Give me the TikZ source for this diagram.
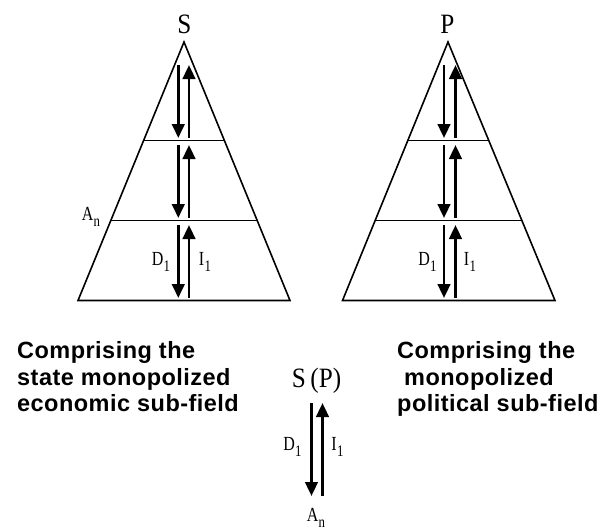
\documentclass[tikz,border=0pt]{standalone}
\usepackage{fontspec}
\setmainfont{Liberation Serif}
\newfontfamily\narrowserif[FakeStretch=0.8]{Liberation Serif}
\newfontfamily\tallserif[FakeStretch=0.9]{Liberation Serif}
\newfontfamily\arialfont[LetterSpace=2]{Liberation Sans}
\newcommand\lsub[1]{\kern0.3pt\lower6pt\hbox{\fontsize{16}{16}\selectfont#1}}
\usetikzlibrary{arrows.meta}
\tikzset{
  edge/.style={line width=1.6pt, line join=miter},
  flow/.style={line width=2.8pt, -{Triangle[length=14pt,width=12.5pt]}},
  big/.style={font=\tallserif\fontsize{28}{30}\selectfont, inner sep=0pt},
  lab/.style={font=\narrowserif\fontsize{20}{22}\selectfont, inner sep=0pt},
  captext/.style={font=\arialfont\bfseries\fontsize{23.5}{26.5}\selectfont, inner sep=0pt, anchor=base west}
}
\begin{document}
\begin{tikzpicture}[x=1pt,y=-1pt]
\useasboundingbox (0,0) rectangle (603,531);

% ---------- left pyramid (S) ----------
\coordinate (LA) at (184,42);
\coordinate (LBL) at (78,300.5);
\coordinate (LBR) at (290,300.5);
\coordinate (L1l) at (143.3,140.5);
\coordinate (L1r) at (224.7,140.5);
\coordinate (L2l) at (110.5,220.5);
\coordinate (L2r) at (257.5,220.5);
\draw[edge] (LA) -- (LBL) -- (LBR) -- cycle;
\draw[edge] (L1l) -- (L1r);
\draw[edge] (L2l) -- (L2r);
\node[big] (S) at (184.5,24) {S};
\foreach \t/\b [count=\i] in {65/138, 145/218, 225/298}{
  \coordinate (Ld\i t) at (178.3,\t); \coordinate (Ld\i b) at (178.3,\b);
  \coordinate (Lu\i t) at (189,\t); \coordinate (Lu\i b) at (189,\b);
  \draw[flow] (Ld\i t) -- (Ld\i b);
  \draw[flow] (Lu\i b) -- (Lu\i t);
}
\node[lab] (LD) at (161,262) {D\lsub{1}};
\node[lab] (LI) at (205,262) {I\lsub{1}};
\node[lab] (LAn) at (91,217) {A\lsub{n}};

% ---------- right pyramid (P) ----------
\coordinate (RA) at (448,42);
\coordinate (RBL) at (342.5,300.5);
\coordinate (RBR) at (555,300.5);
\coordinate (R1l) at (407.2,140.5);
\coordinate (R1r) at (488.8,140.5);
\coordinate (R2l) at (374.5,220.5);
\coordinate (R2r) at (522,220.5);
\draw[edge] (RA) -- (RBL) -- (RBR) -- cycle;
\draw[edge] (R1l) -- (R1r);
\draw[edge] (R2l) -- (R2r);
\node[big] (P) at (447.5,24) {P};
\foreach \t/\b [count=\i] in {65/138, 145/218, 225/298}{
  \coordinate (Rd\i t) at (444,\t); \coordinate (Rd\i b) at (444,\b);
  \coordinate (Ru\i t) at (455.5,\t); \coordinate (Ru\i b) at (455.5,\b);
  \draw[flow] (Rd\i t) -- (Rd\i b);
  \draw[flow] (Ru\i b) -- (Ru\i t);
}
\node[lab] (RD) at (427.5,262) {D\lsub{1}};
\node[lab] (RI) at (470,262) {I\lsub{1}};

% ---------- captions ----------
\node[captext] (c1) at (17,358) {Comprising the};
\node[captext] (c2) at (17,385) {state monopolized};
\node[captext] (c3) at (17,411) {economic sub-field};
\node[captext] (d1) at (397,358) {Comprising the};
\node[captext] (d2) at (397,385) {\ monopolized};
\node[captext] (d3) at (397,411) {political sub-field};

% ---------- centre legend ----------
\node[big] (SP) at (316.5,381) {S\,(P)};
\coordinate (Cdt) at (311.5,403);
\coordinate (Cdb) at (311.5,496);
\coordinate (Cut) at (322.5,403);
\coordinate (Cub) at (322.5,496);
\draw[flow] (Cdt) -- (Cdb);
\draw[flow] (Cub) -- (Cut);
\node[lab] (CD) at (292.5,447) {D\lsub{1}};
\node[lab] (CI) at (337.5,447) {I\lsub{1}};
\node[lab] (CAn) at (316,518) {A\lsub{n}};
\end{tikzpicture}
\end{document}
